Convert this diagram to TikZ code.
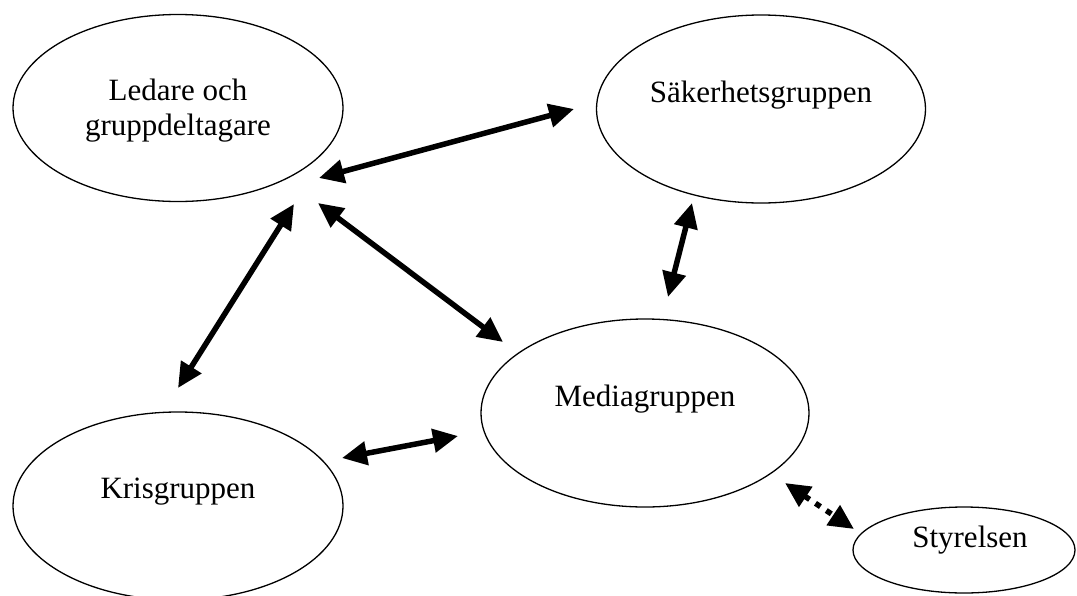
\documentclass[tikz,border=0pt]{standalone}
\usepackage{fontspec}
\setmainfont{Liberation Serif}
\usetikzlibrary{arrows.meta,shapes.geometric}

\begin{document}
\begin{tikzpicture}[x=1pt,y=-1pt,
    grp/.style={ellipse,draw,line width=1.3pt,inner sep=0pt},
    lbl/.style={font=\fontsize{31}{35}\selectfont,align=center},
    link/.style={line width=5.5pt,
        {Triangle[length=25pt,width=23pt]}-{Triangle[length=25pt,width=23pt]}}]
    \useasboundingbox (0,0) rectangle (1077,595);
    % the groups
    \node[grp,minimum width=330pt,minimum height=187pt] (ledare) at (178,108) {};
    \node[grp,minimum width=329pt,minimum height=188pt] (sakerhet) at (761,109) {};
    \node[grp,minimum width=328pt,minimum height=188pt] (media) at (645,413) {};
    \node[grp,minimum width=330pt,minimum height=188pt] (kris) at (178,506) {};
    \node[grp,minimum width=222pt,minimum height=86pt] (styrelse) at (964,550) {};
    \node[lbl] (ledare-txt) at (178,111) {Ledare och\\gruppdeltagare};
    \node[lbl] (sakerhet-txt) at (761,95) {Säkerhetsgruppen};
    \node[lbl] (media-txt) at (645,399) {Mediagruppen};
    \node[lbl] (kris-txt) at (178,492) {Krisgruppen};
    \node[lbl] (styrelse-txt) at (970,540) {Styrelsen};
    % arrow ends
    \coordinate (ls) at (319,178);
    \coordinate (sl) at (574,109);
    \coordinate (lm) at (318,203);
    \coordinate (ml) at (503,342);
    \coordinate (lk) at (294,204);
    \coordinate (kl) at (178,388);
    \coordinate (sm) at (692,203);
    \coordinate (ms) at (668,297);
    \coordinate (km) at (342,458);
    \coordinate (mk) at (458,436);
    \coordinate (mst) at (785,483);
    \coordinate (stm) at (854,529);
    \draw[link] (ls) -- (sl);
    \draw[link] (lm) -- (ml);
    \draw[link] (lk) -- (kl);
    \draw[link] (sm) -- (ms);
    \draw[link] (km) -- (mk);
    \draw[link,dash pattern=on 6pt off 7pt] (mst) -- (stm);
\end{tikzpicture}
\end{document}
